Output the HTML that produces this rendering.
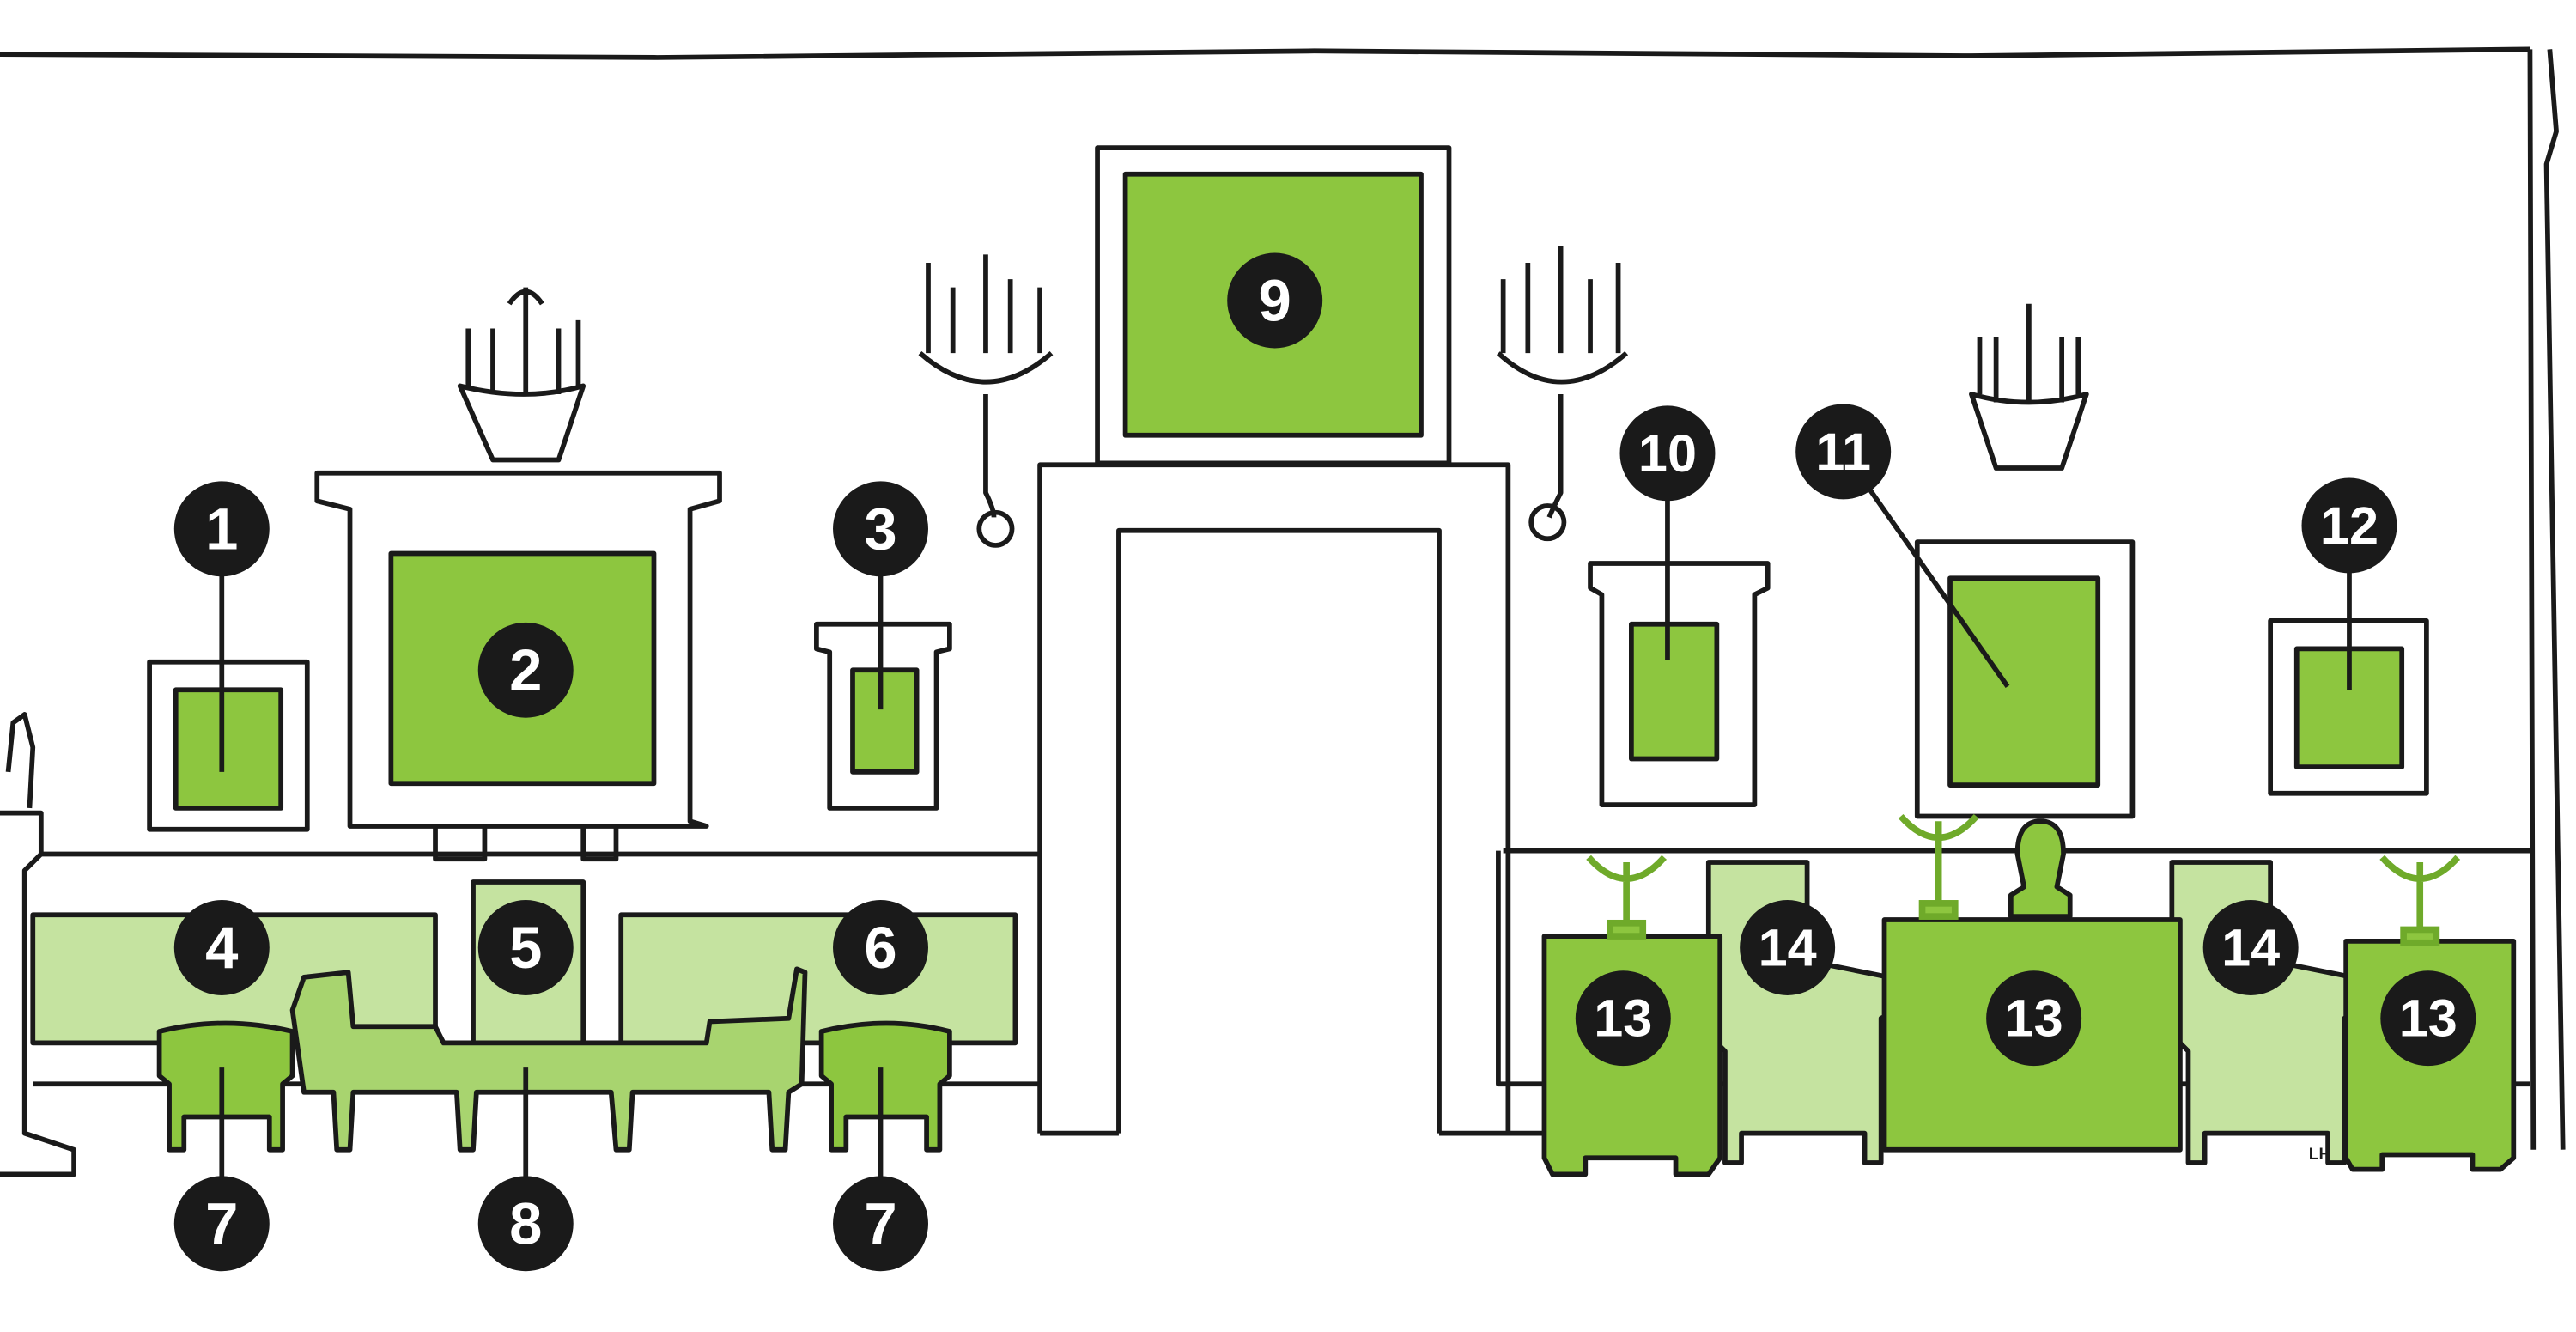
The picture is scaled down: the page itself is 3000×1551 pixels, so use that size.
<!DOCTYPE html>
<html><head><meta charset="utf-8"><style>
html,body{margin:0;padding:0;background:#fff;width:3000px;height:1551px;overflow:hidden}
svg{display:block}
text{font-family:"Liberation Sans",sans-serif;font-weight:bold;fill:#fff;font-size:36px;text-anchor:middle;dominant-baseline:central}
</style></head><body>
<svg width="3000" height="1551" viewBox="0 0 1568 811" preserveAspectRatio="none" xmlns="http://www.w3.org/2000/svg">
<g stroke="#1a1a1a" stroke-width="3" fill="none" stroke-linejoin="round">
<path d="M0 33 L400 35 L800 31 L1200 34 L1540 30"/>
<path d="M1540 30 L1542 700 M1552 30 L1556 80 L1550 100 L1560 700"/>
<path d="M0 495 L25 495 L25 520 L15 530 L15 690 L45 700 L45 715 L0 715" fill="#fff"/>
<path d="M5 470 L8 440 L15 435 L20 455 L18 492" />
<path d="M25 520 L640 520 M20 660 L640 660 M640 520 L640 660"/>
<rect x="20" y="557" width="245" height="78" fill="#c5e3a0"/>
<rect x="288" y="537" width="67" height="98" fill="#c5e3a0"/>
<rect x="378" y="557" width="240" height="78" fill="#c5e3a0"/>
<rect x="91" y="403" width="96" height="102" fill="#fff"/>
<rect x="107" y="420" width="64" height="72" fill="#8dc63f"/>
<path d="M193 288 L438 288 L438 305 L420 310 L420 500 L430 503 L213 503 L213 310 L193 305 Z" fill="#fff"/>
<rect x="238" y="337" width="160" height="140" fill="#8dc63f"/>
<path d="M265 503 L265 523 L295 523 L295 503 M355 503 L355 523 L375 523 L375 503"/>
<path d="M280 235 Q320 245 355 235 L340 280 L300 280 Z M300 200 L300 240 M320 175 L320 240 M340 200 L340 240 M285 200 L285 235 M352 195 L352 235 M310 185 Q320 170 330 185"/>
<path d="M497 380 L578 380 L578 395 L570 397 L570 492 L505 492 L505 397 L497 395 Z" fill="#fff"/>
<rect x="519" y="408" width="39" height="62" fill="#8dc63f"/>
<path d="M633 690 L633 283 L918 283 L918 690 M681 690 L681 323 L876 323 L876 690" fill="#fff"/>
<path d="M633 690 L681 690 M876 690 L940 690"/>
<rect x="668" y="90" width="214" height="192" fill="#fff"/>
<rect x="685" y="106" width="180" height="159" fill="#8dc63f"/>
<path d="M565 160 L565 215 M580 175 L580 215 M600 155 L600 215 M615 170 L615 215 M633 175 L633 215 M560 215 Q600 250 640 215 M600 240 L600 300 Q605 310 605 315"/>
<circle cx="606" cy="322" r="10"/>
<path d="M915 170 L915 215 M930 160 L930 215 M950 150 L950 215 M968 170 L968 215 M985 160 L985 215 M912 215 Q950 250 990 215 M950 240 L950 300 Q945 310 943 315"/>
<circle cx="942" cy="318" r="10"/>
<path d="M1200 240 Q1235 250 1270 240 L1255 285 L1215 285 Z M1215 205 L1215 245 M1235 185 L1235 245 M1255 205 L1255 245 M1205 205 L1205 240 M1265 205 L1265 240"/>
<path d="M968 343 L1076 343 L1076 358 L1068 362 L1068 490 L975 490 L975 362 L968 358 Z" fill="#fff"/>
<rect x="993" y="380" width="52" height="82" fill="#8dc63f"/>
<rect x="1167" y="330" width="131" height="167" fill="#fff"/>
<rect x="1187" y="352" width="90" height="126" fill="#8dc63f"/>
<rect x="1382" y="378" width="95" height="105" fill="#fff"/>
<rect x="1398" y="395" width="64" height="72" fill="#8dc63f"/>
<path d="M915 518 L1540 518 M912 518 L912 660 L1540 660"/>
<path d="M178 615 L185 595 L212 592 L215 625 L265 625 L270 635 L430 635 L432 622 L480 620 L485 590 L490 592 L488 660 L480 665 L478 700 L470 700 L468 665 L385 665 L383 700 L375 700 L372 665 L290 665 L288 700 L280 700 L278 665 L215 665 L213 700 L205 700 L203 665 L185 665 Z" fill="#a8d46f"/>
<path d="M97 628 Q137 618 178 628 L178 655 L172 660 L172 700 L164 700 L164 680 L112 680 L112 700 L103 700 L103 660 L97 655 Z" fill="#8dc63f"/>
<path d="M500 628 Q540 618 578 628 L578 655 L572 660 L572 700 L564 700 L564 680 L515 680 L515 700 L506 700 L506 660 L500 655 Z" fill="#8dc63f"/>
<path d="M1040 525 L1100 525 L1100 585 L1150 595 L1155 615 L1145 620 L1145 708 L1135 708 L1135 690 L1060 690 L1060 708 L1050 708 L1050 640 L1040 630 Z" fill="#c5e3a0"/>
<path d="M1322 525 L1382 525 L1382 585 L1432 595 L1438 615 L1427 620 L1427 708 L1417 708 L1417 690 L1342 690 L1342 708 L1332 708 L1332 640 L1322 630 Z" fill="#c5e3a0"/>
<path d="M940 570 L1047 570 L1047 705 L1040 715 L1020 715 L1020 705 L965 705 L965 715 L945 715 L940 705 Z" fill="#8dc63f"/>
<path d="M1147 560 L1327 560 L1327 700 L1147 700 Z" fill="#8dc63f"/>
<path d="M1428 573 L1530 573 L1530 705 L1522 712 L1505 712 L1505 703 L1450 703 L1450 712 L1432 712 L1428 705 Z" fill="#8dc63f"/>
<path d="M1228 520 Q1228 500 1242 500 Q1256 500 1256 520 L1252 540 L1260 545 L1260 558 L1224 558 L1224 545 L1232 540 Z" fill="#8dc63f"/>
<path d="M135 322 L135 470 M536 322 L536 432 M1015 276 L1015 402 M1122 275 L1222 418 M1430 320 L1430 420 M135 745 L135 650 M536 745 L536 650 M320 745 L320 650"/>
</g>
<g stroke="#6faa2a" stroke-width="4" fill="#8dc63f">
<path d="M967 522 Q990 548 1013 522 M990 525 L990 568" fill="none"/><rect x="980" y="562" width="20" height="8"/>
<path d="M1157 497 Q1180 523 1203 497 M1180 500 L1180 552" fill="none"/><rect x="1170" y="550" width="20" height="8"/>
<path d="M1450 522 Q1473 548 1496 522 M1473 525 L1473 570" fill="none"/><rect x="1463" y="566" width="20" height="8"/>
</g>
<text x="1412" y="703" style="font-size:10px;fill:#1a1a1a">LH</text>
<g fill="#1a1a1a">
<circle cx="135" cy="322" r="29"/><circle cx="320" cy="408" r="29"/><circle cx="536" cy="322" r="29"/>
<circle cx="135" cy="577" r="29"/><circle cx="320" cy="577" r="29"/><circle cx="536" cy="577" r="29"/>
<circle cx="135" cy="745" r="29"/><circle cx="320" cy="745" r="29"/><circle cx="536" cy="745" r="29"/>
<circle cx="776" cy="183" r="29"/><circle cx="1015" cy="276" r="29"/><circle cx="1122" cy="275" r="29"/><circle cx="1430" cy="320" r="29"/>
<circle cx="988" cy="620" r="29"/><circle cx="1238" cy="620" r="29"/><circle cx="1478" cy="620" r="29"/>
<circle cx="1088" cy="577" r="29"/><circle cx="1370" cy="577" r="29"/>
</g>
<text x="135" y="322">1</text><text x="320" y="408">2</text><text x="536" y="322">3</text>
<text x="135" y="577">4</text><text x="320" y="577">5</text><text x="536" y="577">6</text>
<text x="135" y="745">7</text><text x="320" y="745">8</text><text x="536" y="745">7</text>
<text x="776" y="183">9</text><text x="1015" y="276" style="font-size:32px">10</text><text x="1122" y="275" style="font-size:32px">11</text><text x="1430" y="320" style="font-size:32px">12</text>
<text x="988" y="620" style="font-size:32px">13</text><text x="1238" y="620" style="font-size:32px">13</text><text x="1478" y="620" style="font-size:32px">13</text>
<text x="1088" y="577" style="font-size:32px">14</text><text x="1370" y="577" style="font-size:32px">14</text>
</svg>
</body></html>
